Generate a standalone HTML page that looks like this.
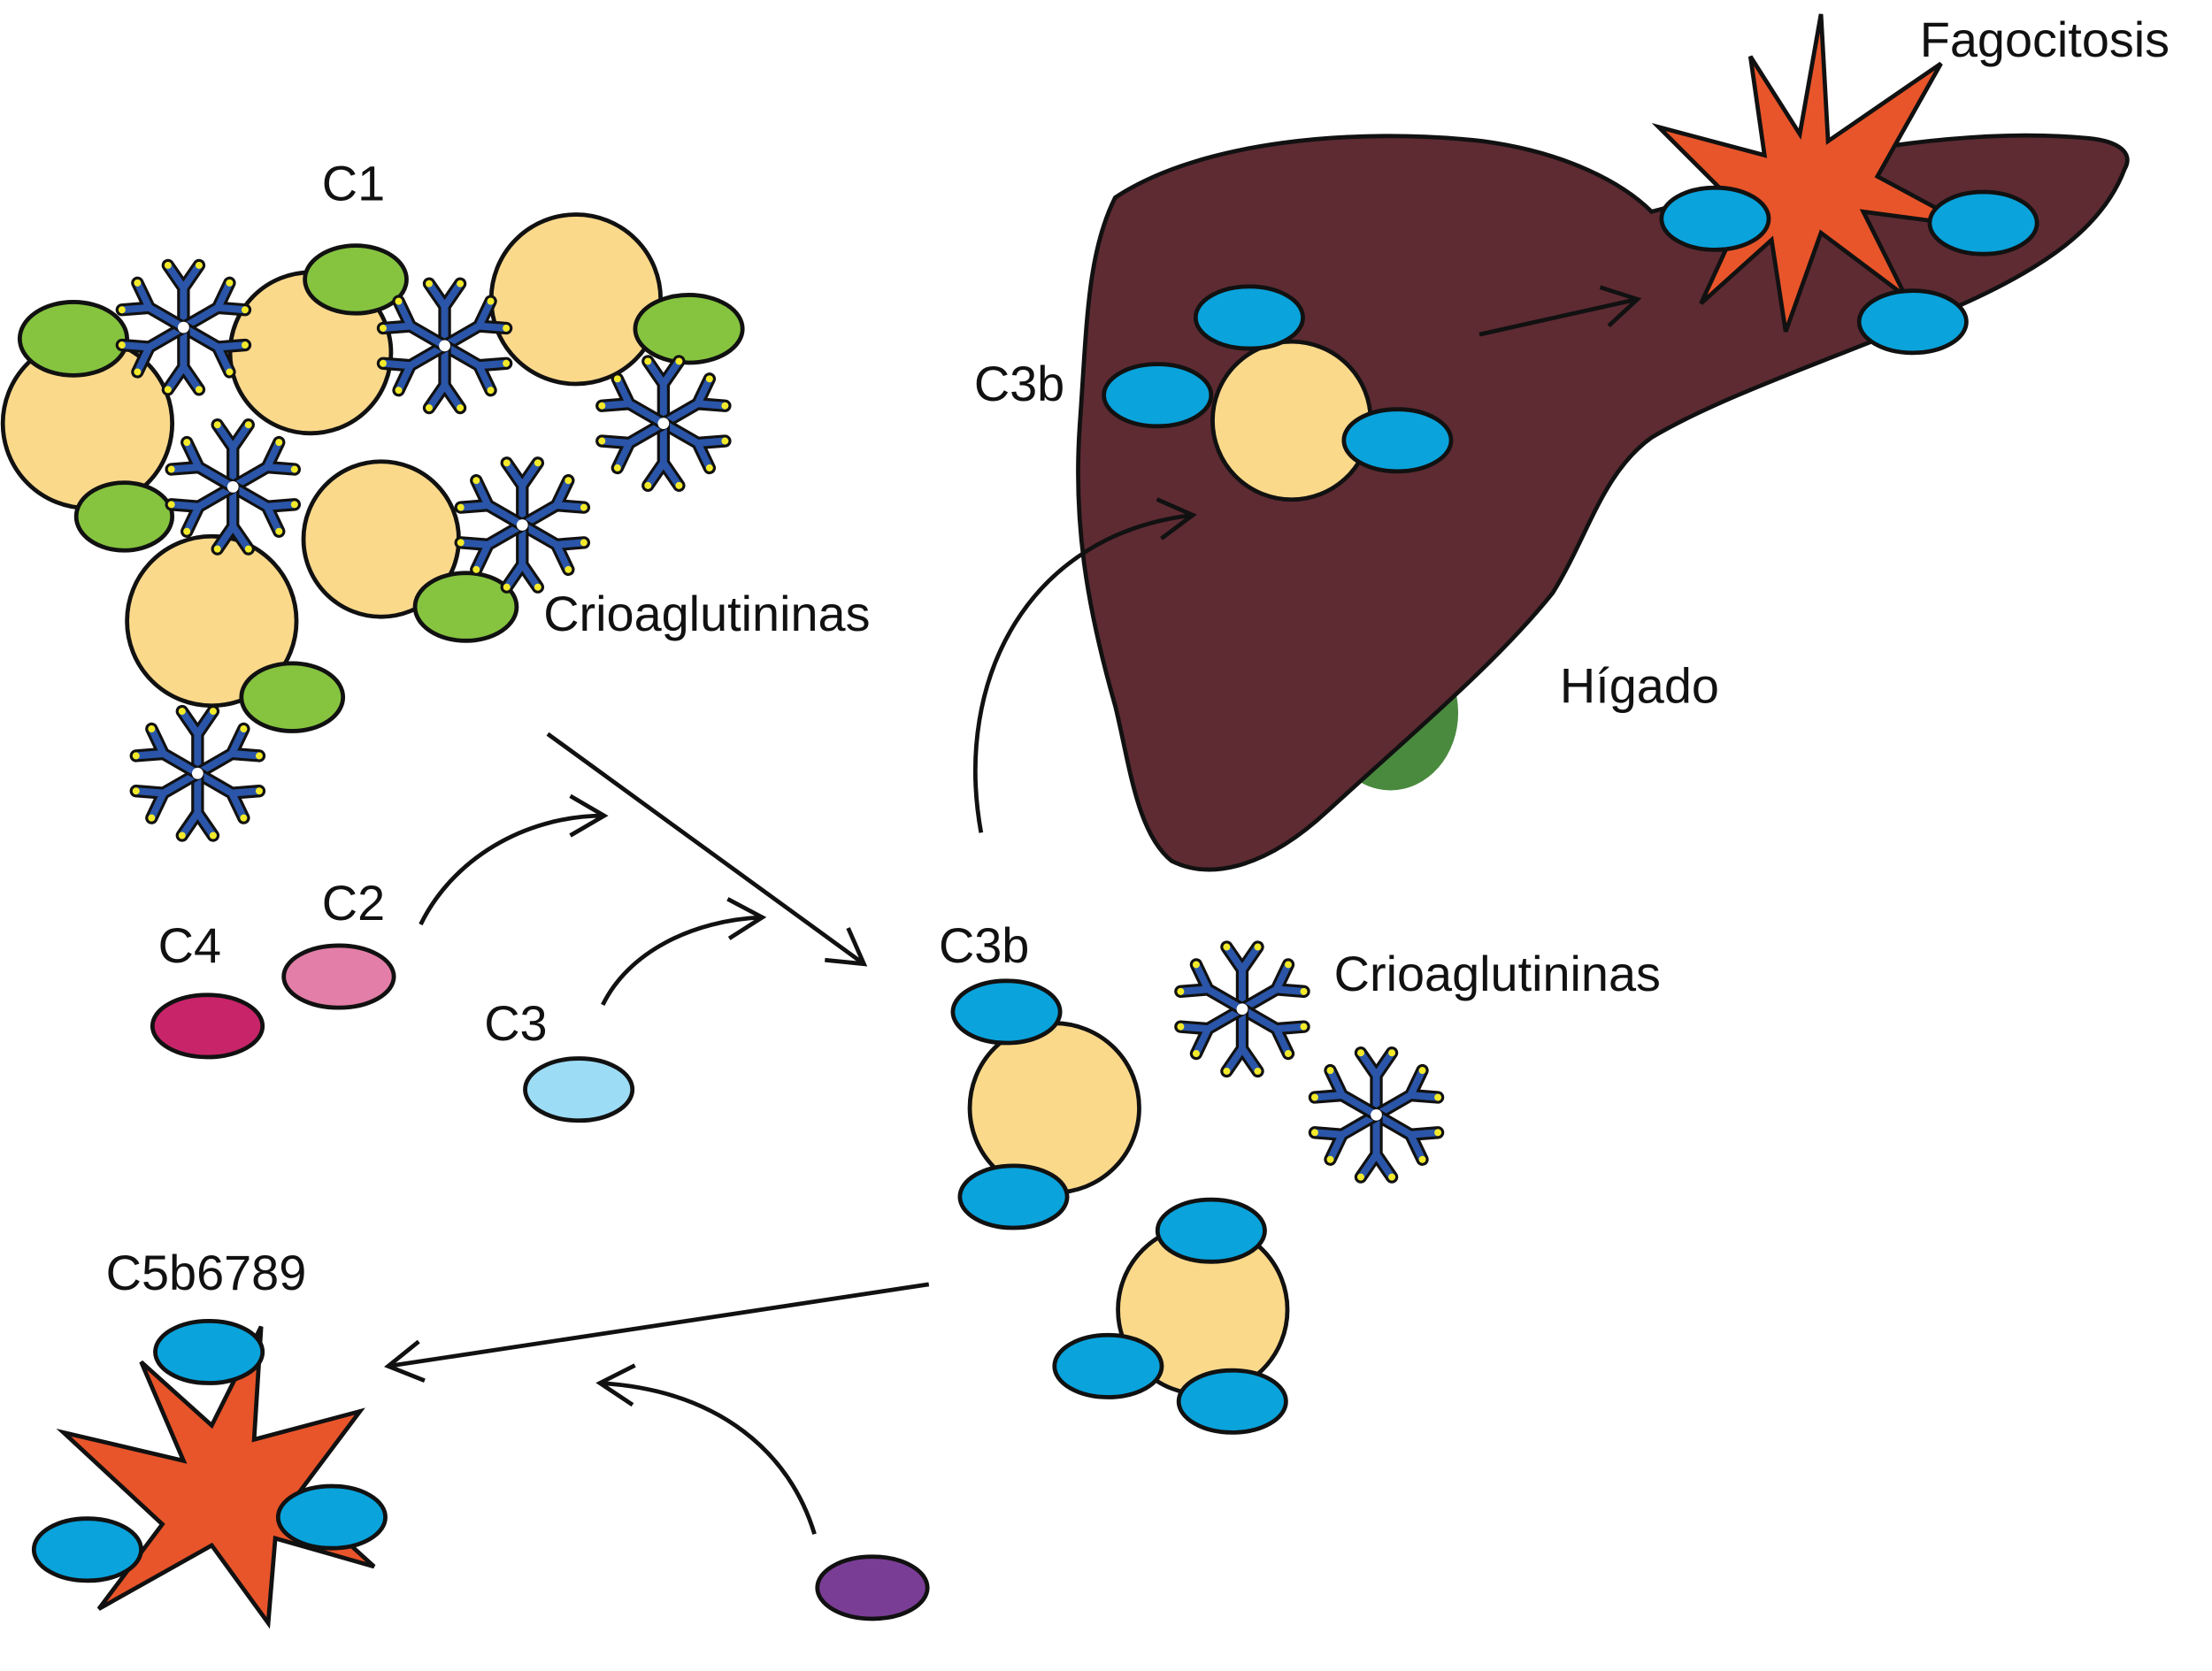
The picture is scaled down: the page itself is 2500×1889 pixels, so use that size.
<!DOCTYPE html>
<html><head><meta charset="utf-8"><style>
html,body{margin:0;padding:0;background:#fff;}
svg{display:block;}
text{font-family:"Liberation Sans",sans-serif;font-size:35px;fill:#111;}
</style></head><body>
<svg width="2500" height="1889" viewBox="0 0 1567 1184" preserveAspectRatio="none" xmlns="http://www.w3.org/2000/svg">
<defs>
<marker id="ah" markerWidth="36" markerHeight="36" refX="28" refY="18" orient="auto" markerUnits="userSpaceOnUse">
<path d="M4,4 L28,18 L4,32" fill="none" stroke="#111" stroke-width="3"/>
</marker>
<g id="arm">
<path d="M0,0 L0,-28 M0,-28 L-11,-44 M0,-28 L11,-44" stroke="#111" stroke-width="9" stroke-linecap="round" fill="none"/>
<path d="M0,0 L0,-28 M0,-28 L-11,-44 M0,-28 L11,-44" stroke="#2a55a8" stroke-width="5" stroke-linecap="round" fill="none"/>
<circle cx="-11" cy="-44" r="2.5" fill="#f3ea2a"/><circle cx="11" cy="-44" r="2.5" fill="#f3ea2a"/>
</g>
<g id="ab">
<use href="#arm" transform="rotate(0)"/><use href="#arm" transform="rotate(60)"/><use href="#arm" transform="rotate(120)"/>
<use href="#arm" transform="rotate(180)"/><use href="#arm" transform="rotate(240)"/><use href="#arm" transform="rotate(300)"/>
<circle r="4" fill="#fff"/>
</g>
</defs>
<g stroke="#111" stroke-width="3">
<ellipse cx="985" cy="505" rx="48" ry="55" fill="#4a8a3f" stroke="none"/>
<path d="M790,140 C850,100 960,90 1050,100 C1110,108 1150,130 1170,150 C1210,140 1240,125 1280,115 C1340,100 1420,92 1480,98 C1500,100 1512,108 1505,120 C1490,160 1450,190 1380,220 C1310,250 1220,280 1170,310 C1135,335 1125,380 1100,420 C1060,470 1000,520 940,575 C900,612 860,625 830,610 C805,590 800,540 790,500 C770,430 760,370 765,300 C770,230 770,180 790,140 Z" fill="#5e2b33"/>
</g>
<g stroke="#111" stroke-width="3">
<circle cx="62" cy="300" r="60" fill="#fbd98b"/>
<circle cx="220" cy="250" r="57" fill="#fbd98b"/>
<circle cx="408" cy="212" r="60" fill="#fbd98b"/>
<circle cx="270" cy="382" r="55" fill="#fbd98b"/>
<circle cx="150" cy="440" r="60" fill="#fbd98b"/>
<ellipse cx="52" cy="240" rx="38" ry="26" fill="#86c440"/>
<ellipse cx="252" cy="198" rx="36" ry="24" fill="#86c440"/>
<ellipse cx="488" cy="233" rx="38" ry="24" fill="#86c440"/>
<ellipse cx="88" cy="366" rx="34" ry="24" fill="#86c440"/>
<ellipse cx="330" cy="430" rx="36" ry="24" fill="#86c440"/>
<ellipse cx="207" cy="494" rx="36" ry="24" fill="#86c440"/>
<circle cx="915" cy="298" r="56" fill="#fbd98b"/>
<ellipse cx="885" cy="225" rx="38" ry="22" fill="#0aa3dc"/>
<ellipse cx="820" cy="280" rx="38" ry="22" fill="#0aa3dc"/>
<ellipse cx="990" cy="312" rx="38" ry="22" fill="#0aa3dc"/>
<path d="M1290,10 L1295,100 L1375,45 L1330,125 L1395,160 L1320,150 L1350,210 L1290,165 L1265,235 L1255,170 L1205,215 L1235,150 L1175,90 L1250,110 L1240,40 L1275,95 Z" fill="#e8552a"/>
<ellipse cx="1215" cy="155" rx="38" ry="22" fill="#0aa3dc"/>
<ellipse cx="1405" cy="158" rx="38" ry="22" fill="#0aa3dc"/>
<ellipse cx="1355" cy="228" rx="38" ry="22" fill="#0aa3dc"/>
<circle cx="747" cy="785" r="60" fill="#fbd98b"/>
<ellipse cx="713" cy="717" rx="38" ry="22" fill="#0aa3dc"/>
<ellipse cx="718" cy="848" rx="38" ry="22" fill="#0aa3dc"/>
<circle cx="852" cy="928" r="60" fill="#fbd98b"/>
<ellipse cx="858" cy="872" rx="38" ry="22" fill="#0aa3dc"/>
<ellipse cx="785" cy="968" rx="38" ry="22" fill="#0aa3dc"/>
<ellipse cx="873" cy="993" rx="38" ry="22" fill="#0aa3dc"/>
<path d="M185,940 L180,1020 L255,1000 L210,1060 L265,1110 L195,1090 L190,1150 L150,1095 L70,1140 L115,1080 L45,1015 L130,1035 L100,965 L150,1010 Z" fill="#e8552a"/>
<ellipse cx="148" cy="958" rx="38" ry="22" fill="#0aa3dc"/>
<ellipse cx="62" cy="1098" rx="38" ry="22" fill="#0aa3dc"/>
<ellipse cx="235" cy="1075" rx="38" ry="22" fill="#0aa3dc"/>
<ellipse cx="147" cy="727" rx="39" ry="22" fill="#c8246a"/>
<ellipse cx="240" cy="692" rx="39" ry="22" fill="#e27ea7"/>
<ellipse cx="410" cy="772" rx="38" ry="22" fill="#9ddcf5"/>
<ellipse cx="618" cy="1125" rx="39" ry="22" fill="#7a3d96"/>
</g>
<use href="#ab" transform="translate(130,232)"/>
<use href="#ab" transform="translate(315,245)"/>
<use href="#ab" transform="translate(470,300)"/>
<use href="#ab" transform="translate(165,345)"/>
<use href="#ab" transform="translate(370,372)"/>
<use href="#ab" transform="translate(140,548)"/>
<use href="#ab" transform="translate(880,715)"/>
<use href="#ab" transform="translate(975,790)"/>
<g fill="none" stroke="#111" stroke-width="3" marker-end="url(#ah)">
<path d="M388,520 L612,683"/>
<path d="M298,655 C320,610 370,578 428,578"/>
<path d="M427,712 C445,675 490,652 540,650"/>
<path d="M695,590 C675,480 730,378 845,365"/>
<path d="M1048,237 L1160,212"/>
<path d="M658,910 L275,968"/>
<path d="M577,1087 C560,1030 510,985 425,980"/>
</g>
<text x="228" y="142">C1</text>
<text x="385" y="447">Crioaglutininas</text>
<text x="112" y="682">C4</text>
<text x="228" y="652">C2</text>
<text x="343" y="737">C3</text>
<text x="665" y="682">C3b</text>
<text x="945" y="702">Crioaglutininas</text>
<text x="75" y="914">C5b6789</text>
<text x="690" y="284">C3b</text>
<text x="1105" y="498">Hígado</text>
<text x="1360" y="40">Fagocitosis</text>
</svg>
</body></html>
